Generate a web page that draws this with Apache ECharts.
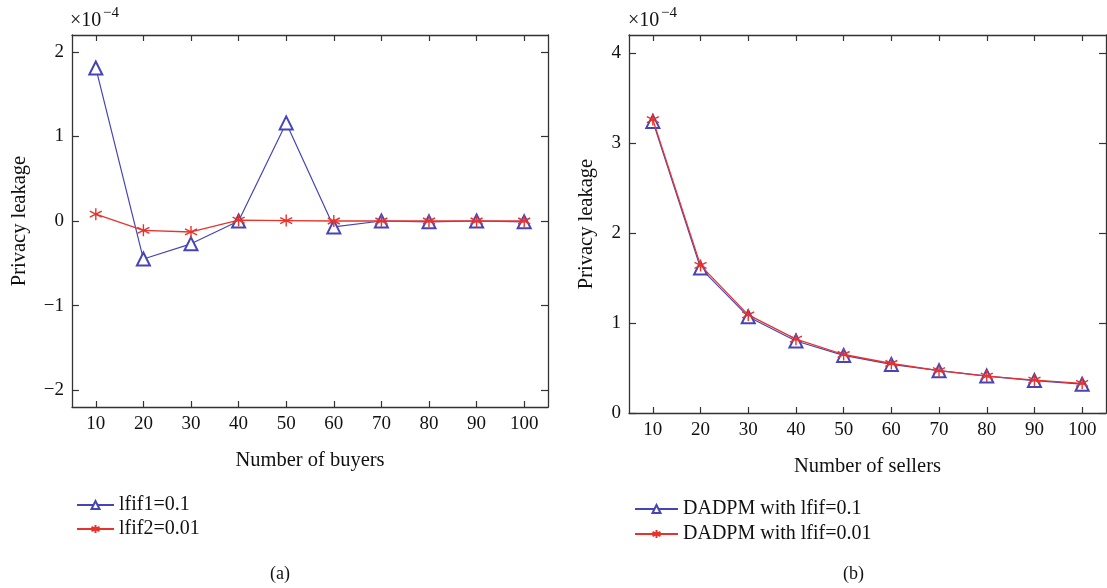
<!DOCTYPE html>
<html>
<head>
<meta charset="utf-8">
<script src="https://cdn.jsdelivr.net/npm/echarts@6/dist/echarts.min.js"></script>
<style>
  html, body { margin: 0; padding: 0; background: #fff; }
  #chart { width: 1107px; height: 588px; }
</style>
</head>
<body>
<div id="chart"></div>
<script>
// Participant counts on the horizontal axes
const counts = ['10', '20', '30', '40', '50', '60', '70', '80', '90', '100'];

// Panel (a): privacy leakage (×10^-4) versus number of buyers
const buyersLfif1 = [1.81, -0.45, -0.27, 0.0, 1.16, -0.07, 0.0, -0.01, 0.0, -0.01];
const buyersLfif2 = [0.08, -0.11, -0.13, 0.01, 0.005, 0.0, 0.0, 0.0, 0.0, 0.0];

// Panel (b): privacy leakage (×10^-4) versus number of sellers
const sellersLfif01 = [3.24, 1.61, 1.07, 0.80, 0.64, 0.54, 0.47, 0.41, 0.36, 0.32];
const sellersLfif001 = [3.26, 1.64, 1.09, 0.82, 0.65, 0.55, 0.47, 0.41, 0.365, 0.33];

// Tick values on the vertical axes
const ticksA = [-2, -1, 0, 1, 2];
const ticksB = [0, 1, 2, 3, 4];

const FONT = '"Liberation Serif", "DejaVu Serif", serif';
const AXIS = '#333';
const BLUE = '#4545b8';
const RED = '#e8322c';
const ASTERISK = 'path://M0,-5L0,5M-4.33,-2.5L4.33,2.5M-4.33,2.5L4.33,-2.5';

const fmtMinus = v => String(v).replace('-', '\u2212');

function xAxes(gridIndex, name) {
  const base = {
    type: 'category', gridIndex, data: counts, boundaryGap: true,
    axisLine: { show: true, onZero: false, lineStyle: { color: AXIS, width: 1.3 } },
    axisTick: { show: true, inside: true, alignWithLabel: true, interval: 0, length: 6, lineStyle: { color: AXIS, width: 1.2 } },
    splitLine: { show: false }
  };
  return [
    Object.assign({}, base, {
      position: 'bottom', name, nameLocation: 'middle', nameGap: 43,
      nameTextStyle: { fontFamily: FONT, fontSize: 20.5, color: '#111' },
      axisLabel: { fontFamily: FONT, fontSize: 19, color: '#111', margin: 8, interval: 0 }
    }),
    Object.assign({}, base, { position: 'top', axisLabel: { show: false } })
  ];
}

function yAxes(gridIndex, min, max, ticks, name, nameGap) {
  const base = {
    type: 'value', gridIndex, min, max,
    axisLine: { show: true, onZero: false, lineStyle: { color: AXIS, width: 1.3 } },
    axisTick: { show: true, inside: true, length: 7, customValues: ticks, lineStyle: { color: AXIS, width: 1.2 } },
    splitLine: { show: false }
  };
  return [
    Object.assign({}, base, {
      position: 'left',
      name, nameLocation: 'middle', nameGap, nameRotate: 90,
      nameTextStyle: { fontFamily: FONT, fontSize: 20.5, color: '#111' },
      axisLabel: { show: true, customValues: ticks, fontFamily: FONT, fontSize: 19, color: '#111', margin: 8, formatter: fmtMinus }
    }),
    Object.assign({}, base, { position: 'right', axisLabel: { show: false } })
  ];
}

function triSeries(name, data, xi, yi) {
  return {
    type: 'line', name, data, xAxisIndex: xi, yAxisIndex: yi,
    symbol: 'emptyTriangle', symbolSize: 13, showAllSymbol: true,
    color: BLUE, lineStyle: { color: BLUE, width: 1.2 },
    itemStyle: { color: BLUE, borderColor: BLUE, borderWidth: 1.2 },
    z: 2, animation: false
  };
}

function starSeries(name, data, xi, yi) {
  return {
    type: 'line', name, data, xAxisIndex: xi, yAxisIndex: yi,
    symbol: ASTERISK, symbolSize: 12, showAllSymbol: true,
    color: RED, lineStyle: { color: RED, width: 1.3 },
    itemStyle: { color: RED, borderColor: RED, borderWidth: 1.4 },
    z: 3, animation: false
  };
}

const legendText = { fontFamily: FONT, fontSize: 20, color: '#111' };

const option = {
  backgroundColor: '#fff',
  animation: false,
  grid: [
    { left: 72, top: 35, width: 476, height: 372 },
    { left: 629, top: 35, width: 477, height: 378 }
  ],
  xAxis: [...xAxes(0, 'Number of buyers'), ...xAxes(1, 'Number of sellers')],
  yAxis: [
    ...yAxes(0, -2.2, 2.2, ticksA, 'Privacy leakage', 42),
    ...yAxes(1, 0, 4.2, ticksB, 'Privacy leakage', 32)
  ],
  legend: [
    {
      data: ['lfif1=0.1', 'lfif2=0.01'], orient: 'vertical', left: 71, top: 490,
      itemWidth: 37, itemHeight: 10, itemGap: 4, textStyle: legendText
    },
    {
      data: ['DADPM with lfif=0.1', 'DADPM with lfif=0.01'], orient: 'vertical', left: 629, top: 494,
      itemWidth: 43, itemHeight: 10, itemGap: 5, textStyle: legendText
    }
  ],
  series: [
    triSeries('lfif1=0.1', buyersLfif1, 0, 0),
    starSeries('lfif2=0.01', buyersLfif2, 0, 0),
    triSeries('DADPM with lfif=0.1', sellersLfif01, 2, 2),
    starSeries('DADPM with lfif=0.01', sellersLfif001, 2, 2)
  ],
  graphic: [
    { type: 'text', left: 70, top: 11, style: { text: '\u00d710', font: '20px ' + FONT, fill: '#111' } },
    { type: 'text', left: 103, top: 6, style: { text: '\u22124', font: '15px ' + FONT, fill: '#111' } },
    { type: 'text', left: 628, top: 11, style: { text: '\u00d710', font: '20px ' + FONT, fill: '#111' } },
    { type: 'text', left: 661, top: 6, style: { text: '\u22124', font: '15px ' + FONT, fill: '#111' } },
    { type: 'text', left: 270, top: 565, style: { text: '(a)', font: '18px ' + FONT, fill: '#111' } },
    { type: 'text', left: 843, top: 565, style: { text: '(b)', font: '18px ' + FONT, fill: '#111' } }
  ]
};

const chart = echarts.init(document.getElementById('chart'), null, { renderer: 'canvas' });
chart.setOption(option);
</script>
</body>
</html>
